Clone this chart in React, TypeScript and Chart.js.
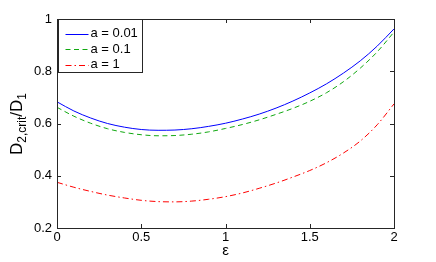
import React, { useEffect, useRef } from "react";
import { Chart, registerables } from "chart.js";
Chart.register(...registerables);

const epsilon = [0, 0.1, 0.2, 0.3, 0.4, 0.5, 0.6, 0.7, 0.8, 0.9, 1.0, 1.1, 1.2, 1.3, 1.4, 1.5, 1.6, 1.7, 1.8, 1.9, 2.0];
const seriesA001 = [0.683, 0.648, 0.621, 0.600, 0.586, 0.577, 0.574, 0.575, 0.580, 0.589, 0.601, 0.617, 0.636, 0.659, 0.686, 0.717, 0.752, 0.793, 0.840, 0.896, 0.962];
const seriesA01 = [0.662, 0.628, 0.601, 0.580, 0.566, 0.557, 0.553, 0.554, 0.559, 0.568, 0.581, 0.596, 0.614, 0.635, 0.658, 0.685, 0.718, 0.760, 0.812, 0.874, 0.950];
const seriesA1 = [0.375, 0.356, 0.340, 0.326, 0.315, 0.306, 0.301, 0.300, 0.303, 0.310, 0.320, 0.334, 0.352, 0.372, 0.395, 0.420, 0.450, 0.487, 0.533, 0.595, 0.675];
const seriesLabels = ["a = 0.01", "a = 0.1", "a = 1"];
const xTicks = ["0", "0.5", "1", "1.5", "2"];
const yTicks = ["0.2", "0.4", "0.6", "0.8", "1"];

const FONT = "'Liberation Sans', Arial, sans-serif";
const colors = ["#0000ff", "#10a810", "#ff0000"];
const dashes: number[][] = [[], [5, 3.5], [6, 3, 1.5, 3]];

const decorPlugin = {
  id: "decor",
  afterDraw(chart: any) {
    const { ctx, chartArea: a, scales } = chart;
    const xs = scales.x, ys = scales.y;
    ctx.save();
    ctx.strokeStyle = "#262626";
    ctx.lineWidth = 1;
    ctx.setLineDash([]);
    ctx.strokeRect(Math.round(a.left) + 0.5, Math.round(a.top) + 0.5, Math.round(a.right - a.left), Math.round(a.bottom - a.top));
    const tl = 4;
    ctx.beginPath();
    for (const v of [0, 0.5, 1, 1.5, 2]) {
      const px = Math.round(xs.getPixelForValue(v)) + 0.5;
      ctx.moveTo(px, a.bottom); ctx.lineTo(px, a.bottom - tl);
      ctx.moveTo(px, a.top); ctx.lineTo(px, a.top + tl);
    }
    for (const v of [0.2, 0.4, 0.6, 0.8, 1]) {
      const py = Math.round(ys.getPixelForValue(v)) + 0.5;
      ctx.moveTo(a.left, py); ctx.lineTo(a.left + tl, py);
      ctx.moveTo(a.right, py); ctx.lineTo(a.right - tl, py);
    }
    ctx.stroke();

    // legend
    const lx = Math.round(a.left) + 1.5, ly = Math.round(a.top) + 0.5;
    const lw = 84, lh = 53;
    ctx.fillStyle = "#fff";
    ctx.fillRect(lx, ly, lw, lh);
    ctx.strokeStyle = "#262626";
    ctx.strokeRect(lx, ly, lw, lh);
    ctx.font = `13px ${FONT}`;
    ctx.textBaseline = "middle";
    ctx.textAlign = "left";
    for (let i = 0; i < 3; i++) {
      const cy = ly + 14 + i * 15.5;
      ctx.strokeStyle = colors[i];
      ctx.setLineDash(dashes[i]);
      ctx.beginPath();
      ctx.moveTo(lx + 7, Math.round(cy) + 0.5);
      ctx.lineTo(lx + 30, Math.round(cy) + 0.5);
      ctx.stroke();
      ctx.setLineDash([]);
      ctx.fillStyle = "#000";
      ctx.fillText(seriesLabels[i], lx + 32, cy);
    }

    // y label with subscripts
    ctx.save();
    ctx.translate(22, 155);
    ctx.rotate(-Math.PI / 2);
    ctx.fillStyle = "#000";
    ctx.textBaseline = "alphabetic";
    let x = 0;
    const big = `17px ${FONT}`, small = `12px ${FONT}`;
    const parts: [string, boolean][] = [["D", false], ["2,crit", true], ["/D", false], ["1", true]];
    for (const [t, sub] of parts) {
      ctx.font = sub ? small : big;
      ctx.fillText(t, x, sub ? 4 : 0);
      x += ctx.measureText(t).width;
    }
    ctx.restore();

    // x label
    ctx.font = `15px ${FONT}`;
    ctx.fillStyle = "#000";
    ctx.textAlign = "center";
    ctx.textBaseline = "middle";
    ctx.fillText("ε", (a.left + a.right) / 2, 251);
    ctx.restore();
  },
};

export default function App() {
  const ref = useRef<HTMLCanvasElement>(null);
  useEffect(() => {
    document.body.style.margin = "0";
    const sets = [seriesA001, seriesA01, seriesA1];
    const chart = new Chart(ref.current!, {
      type: "line",
      data: {
        datasets: sets.map((s, i) => ({
          label: seriesLabels[i],
          data: s.map((v, j) => ({ x: epsilon[j], y: v })),
          borderColor: colors[i],
          borderWidth: 1,
          borderDash: dashes[i],
          pointRadius: 0,
          tension: 0.4,
          cubicInterpolationMode: "monotone" as const,
          fill: false,
        })),
      },
      options: {
        responsive: false,
        animation: false,
        layout: { padding: { top: 19, right: 42, left: 0, bottom: 0 } },
        plugins: { legend: { display: false }, tooltip: { enabled: false } },
        scales: {
          x: {
            type: "linear",
            min: 0,
            max: 2,
            afterBuildTicks: (s: any) => { s.ticks = xTicks.map((t) => ({ value: parseFloat(t) })); },
            ticks: {
              callback: (_v: any, i: number) => xTicks[i],
              font: { family: FONT, size: 13 },
              color: "#000",
              padding: 2,
              maxRotation: 0,
            },
            grid: { display: false, drawTicks: false },
            border: { display: false },
            afterFit: (s: any) => { s.height = 34; },
          },
          y: {
            type: "linear",
            min: 0.2,
            max: 1,
            afterBuildTicks: (s: any) => { s.ticks = yTicks.map((t) => ({ value: parseFloat(t) })); },
            ticks: {
              callback: (_v: any, i: number) => yTicks[i],
              font: { family: FONT, size: 13 },
              color: "#000",
              padding: 5,
            },
            grid: { display: false, drawTicks: false },
            border: { display: false },
            afterFit: (s: any) => { s.width = 57; },
          },
        },
      },
      plugins: [decorPlugin],
    });
    return () => chart.destroy();
  }, []);
  return (
    <div style={{ position: "absolute", left: 0, top: 0, width: 436, height: 262, background: "#fff" }}>
      <canvas ref={ref} width={436} height={262} style={{ display: "block" }} />
    </div>
  );
}
